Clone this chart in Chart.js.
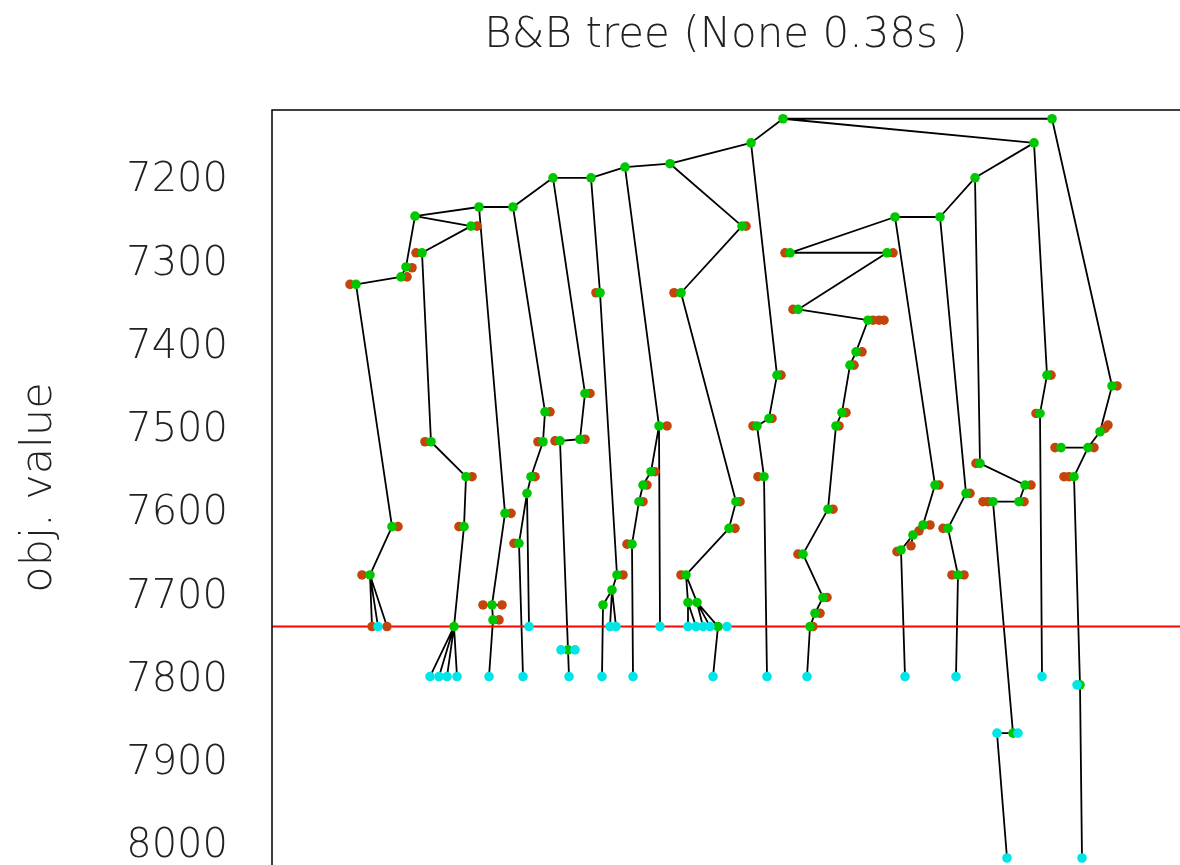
<!DOCTYPE html>
<html>
<head>
<meta charset="utf-8">
<title>B&amp;B tree</title>
<script src="https://cdn.jsdelivr.net/npm/chart.js@4.4.1/dist/chart.umd.min.js"></script>
<style>
  html, body { margin: 0; padding: 0; background: #fff; overflow: hidden; }
  #wrap { position: relative; width: 1180px; height: 865px; }
</style>
</head>
<body>
<div id="wrap"><canvas id="tree"></canvas></div>
<script>
// B&B tree nodes: layout position, objective value, kind and parent
// kind: b = branched (green), p = pruned (red), f = feasible (cyan)
const nodeId = [
  'r','t0','s0','a0','a1','a2','a3','a4','a5','a6','a7','a8','a8p','a9','a9p',
  'b1','b1p','b2','b2p','b3','b3p','b4','b4p','b5','b5p','b6p','b6f','b7p',
  'c1','c1p','c2','c2p','c3','c3p','c4','c5f','c6f','c7f','c8f',
  'd1','d1p','d2','d2p','d3p','d4','d4p','d5f',
  'e1','e1p','e2','e2p','e3','e3p','e4','e5','e5p','e6f','e7f',
  'g1','g1p','g2','g2p','g3','g3p','g4','g5f','g6f','g7f',
  'h1','h1p','h2','h2p','h3','h4','h5f','h6f','h7f',
  'm1','m1p','m1f','m2','m2p','m3','m3p','m4','m4p','m5','m5p','m6f',
  'k1','k1p','k2','k2p','k3','k3p','k4','k4p','k5','k5p','k6','k7','k8f','k9f','k10f','k11f','k12','k13f','k14f',
  'n1','n1p','n2','n2p','n3','n3p','n4','n4p','n5f',
  'p3','p2','p1','q1','q1p','q2','q2p','q3','q3p','q4','q4p','q4p2','q4p3','q5','q5p','q6','q6p','q7','q7p','q8','q8p','q9','q9p','q10','q10p','q11','q11p','q12','q12p','q13','q13p','q14f',
  'u1','u1p','u2','u2p','u3','u3p','u4','u4p','u5p','u6f',
  'v1','v1p','v2','v2p','v3','v3p','v4p','v5f',
  'w1','w1p','w2','w2p','w3','w3p','w4','w4p','w5p','w6','w7f','w8f','w9f',
  'x1','x1p','x2','x2p','x3f',
  'y1','y1p','y2','y2p','y3p','y3','y4p','y5','y5p','y6','y6p','y7p','y7','y8f','y9f'
];
const nodeX = [
  783,1052,1034,751,670,625,591,553,513,479,415,471,477,422,416,
  406,412,401,407,356,350,392,398,370,362,372,378,387,
  431,425,466,472,464,459,454,430,439,447,457,
  505,511,492,483,502,493,499,489,
  545,550,543,538,531,535,527,519,514,523,529,
  585,590,580,585,560,555,568,561,575,569,
  600,596,617,623,612,603,602,610,616,
  659,667,660,651,655,643,647,639,643,632,627,633,
  742,746,681,674,736,740,729,735,686,681,688,697,688,696,703,710,718,727,713,
  777,781,769,772,757,753,764,758,767,
  975,940,895,790,785,887,893,798,793,868,873,879,884,856,862,850,854,842,846,836,839,828,833,803,798,823,827,815,820,810,813,807,
  935,939,923,930,913,919,901,897,911,905,
  966,970,948,943,958,952,964,956,
  980,976,1025,1031,1019,1024,993,988,983,1013,1018,997,1007,
  1047,1051,1040,1036,1042,
  1112,1117,1100,1105,1108,1088,1094,1061,1055,1074,1064,1069,1080,1077,1082
];
const nodeObj = [
  7130,7130,7159,7159,7184,7188,7201,7201,7236,7236,7247,7259,7259,7291,7291,
  7308,7309,7320,7320,7329,7329,7620,7620,7678,7678,7740,7740,7740,
  7518,7518,7560,7560,7620,7620,7740,7800,7800,7800,7800,
  7604,7604,7714,7714,7714,7732,7732,7800,
  7482,7482,7518,7518,7560,7560,7580,7640,7640,7800,7740,
  7460,7460,7515,7515,7517,7517,7768,7768,7768,7800,
  7339,7339,7678,7678,7696,7714,7800,7740,7740,
  7499,7499,7740,7554,7554,7570,7570,7590,7590,7641,7641,7800,
  7259,7259,7339,7339,7590,7590,7622,7622,7678,7678,7711,7711,7740,7740,7740,7740,7740,7740,7800,
  7438,7438,7490,7490,7499,7499,7560,7560,7800,
  7201,7248,7248,7291,7291,7291,7291,7359,7359,7372,7372,7372,7372,7410,7410,7426,7426,7483,7483,7499,7499,7599,7599,7653,7653,7705,7705,7724,7724,7740,7740,7800,
  7570,7570,7618,7618,7630,7625,7648,7650,7643,7800,
  7580,7580,7622,7622,7678,7678,7678,7800,
  7544,7544,7570,7570,7590,7590,7590,7590,7590,7868,7868,7868,8018,
  7438,7438,7484,7484,7800,
  7451,7451,7506,7502,7498,7525,7525,7525,7525,7560,7560,7560,7810,7810,8018
];
const nodeKind = [
  'b','b','b','b','b','b','b','b','b','b','b','b','p','b','p',
  'b','p','b','p','b','p','b','p','b','p','p','f','p',
  'b','p','b','p','b','p','b','f','f','f','f',
  'b','p','b','p','p','b','p','f',
  'b','p','b','p','b','p','b','b','p','f','f',
  'b','p','b','p','b','p','b','f','f','f',
  'b','p','b','p','b','b','f','f','f',
  'b','p','f','b','p','b','p','b','p','b','p','f',
  'b','p','b','p','b','p','b','p','b','p','b','b','f','f','f','f','b','f','f',
  'b','p','b','p','b','p','b','p','f',
  'b','b','b','b','p','b','p','b','p','b','p','p','p','b','p','b','p','b','p','b','p','b','p','b','p','b','p','b','p','b','p','f',
  'b','p','b','p','b','p','b','p','p','f',
  'b','p','b','p','b','p','p','f',
  'b','p','b','p','b','p','b','p','p','b','f','f','f',
  'b','p','b','p','f',
  'b','p','b','p','p','b','p','b','p','b','p','p','b','f','f'
];
const nodeParent = [
  '','r','r','r','a0','a1','a2','a3','a4','a5','a6','a7','a8','a8','a9',
  'a7','b1','b1','b2','b2','b3','b3','b4','b4','b5','b5','b5','b5',
  'a9','c1','c1','c2','c2','c3','c3','c4','c4','c4','c4',
  'a6','d1','d1','d2','d2','d2','d4','d4',
  'a5','e1','e1','e2','e2','e3','e3','e4','e5','e5','e4',
  'a4','g1','g1','g2','g2','g3','g3','g4','g4','g4',
  'a3','h1','h1','h2','h2','h3','h4','h3','h3',
  'a2','m1','m1','m1','m2','m2','m3','m3','m4','m4','m5','m5',
  'a1','k1','k1','k2','k2','k3','k3','k4','k4','k5','k5','k5','k6','k6','k7','k7','k7','k12','k12',
  'a0','n1','n1','n2','n2','n3','n3','n4','n4',
  's0','p3','p2','p1','q1','q1','q2','q2','q3','q3','q4','q4','q4','q4','q5','q5','q6','q6','q7','q7','q8','q8','q9','q9','q10','q10','q11','q11','q12','q12','q13','q13',
  'p1','u1','u1','u2','u2','u3','u3','u4','u3','u4',
  'p2','v1','v1','v2','v2','v3','v3','v3',
  'p3','w1','w1','w2','w2','w3','w3','w4','w4','w4','w6','w6','w8f',
  's0','x1','x1','x2','x2',
  't0','y1','y1','y2','y2','y2','y3','y3','y5','y3','y6','y6','y6','y7','y7'
];
const incumbent = 7740;
const yTicks = [7200, 7300, 7400, 7500, 7600, 7700, 7800, 7900, 8000];

Chart.defaults.font.family = '"DejaVu Sans", Verdana, sans-serif';
Chart.defaults.font.weight = 200;

const indexOf = {};
nodeId.forEach((id, i) => { indexOf[id] = i; });

// parent -> child segments, separated by gaps
const edges = [];
nodeId.forEach((id, i) => {
  const p = nodeParent[i];
  if (!p) return;
  const j = indexOf[p];
  edges.push({ x: nodeX[j], y: nodeObj[j] }, { x: nodeX[i], y: nodeObj[i] }, { x: nodeX[i], y: null });
});

const pointsOf = kind => nodeId
  .map((id, i) => i)
  .filter(i => nodeKind[i] === kind)
  .map(i => ({ x: nodeX[i], y: nodeObj[i] }));

const frame = {
  id: 'frame',
  afterDatasetsDraw(chart) {
    const { ctx, chartArea: a } = chart;
    ctx.save();
    ctx.strokeStyle = '#000';
    ctx.lineWidth = 1.5;
    ctx.beginPath();
    ctx.moveTo(a.left, a.bottom + 5);
    ctx.lineTo(a.left, a.top);
    ctx.lineTo(a.right + 5, a.top);
    ctx.stroke();
    ctx.restore();
  }
};

const noPadding = scale => {
  scale.paddingTop = 0;
  scale.paddingBottom = 0;
  scale.paddingLeft = 0;
  scale.paddingRight = 0;
};

const nodeSet = (kind, color, order) => ({
  data: pointsOf(kind),
  showLine: false,
  pointRadius: 4.8,
  pointStyle: 'circle',
  pointBackgroundColor: color,
  pointBorderColor: color,
  pointBorderWidth: 0,
  order
});

new Chart(document.getElementById('tree'), {
  type: 'scatter',
  data: {
    datasets: [
      { data: edges, showLine: true, spanGaps: false, borderColor: '#000', borderWidth: 1.8, pointRadius: 0, order: 5 },
      { data: [{ x: 272, y: incumbent }, { x: 1180, y: incumbent }], showLine: true, borderColor: '#ff0000', borderWidth: 2, pointRadius: 0, order: 4 },
      nodeSet('p', '#c4450c', 3),
      nodeSet('b', '#00c800', 2),
      nodeSet('f', '#00e6e6', 1)
    ]
  },
  options: {
    responsive: true,
    maintainAspectRatio: false,
    animation: false,
    events: [],
    layout: { padding: 0, autoPadding: false },
    plugins: {
      legend: { display: false },
      tooltip: { enabled: false },
      title: {
        display: true,
        fullSize: false,
        text: 'B&B tree (None 0.38s )',
        color: '#222',
        font: { size: 42, weight: 200 },
        padding: { top: 11, bottom: 48.6 }
      }
    },
    scales: {
      x: { type: 'linear', min: 272, max: 1180, display: false, afterFit: noPadding },
      y: {
        type: 'linear',
        reverse: true,
        min: 7119.5,
        max: 8026.4,
        afterFit(scale) { scale.width = 272; noPadding(scale); },
        afterBuildTicks(scale) { scale.ticks = yTicks.map(v => ({ value: v })); },
        grid: { display: false, drawTicks: false },
        border: { display: false },
        ticks: { padding: 44, labelOffset: 4, autoSkip: false, color: '#222', font: { size: 40, weight: 200 }, callback: v => String(v) },
        title: {
          display: true,
          text: 'obj. value',
          color: '#222',
          font: { size: 43, weight: 200 },
          padding: { top: 14, bottom: 0 }
        }
      }
    }
  },
  plugins: [frame]
});
</script>
</body>
</html>
